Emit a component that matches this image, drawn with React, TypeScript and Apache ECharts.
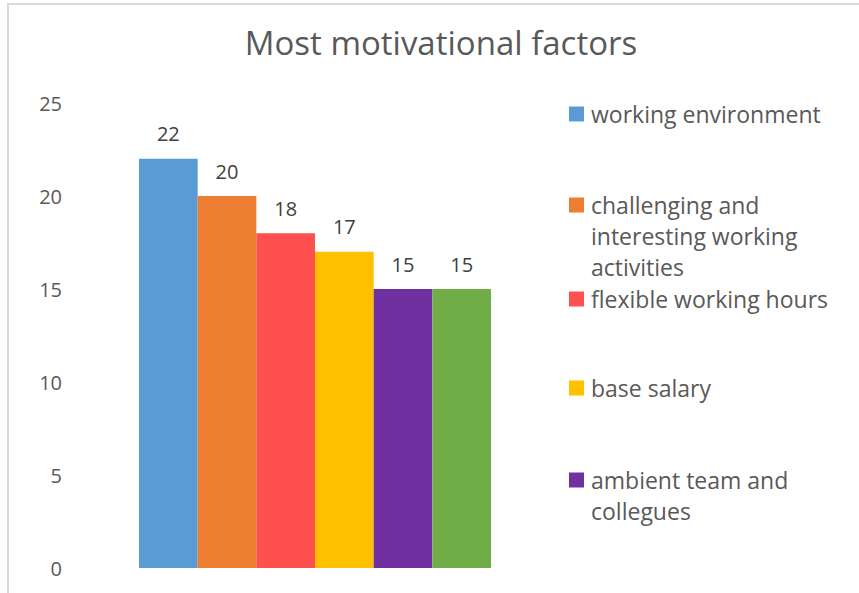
import React, { useEffect, useRef } from "react";
import * as echarts from "echarts";

const categories = [""];
const seriesNames = [
  "working environment",
  "challenging and interesting working activities",
  "flexible working hours",
  "base salary",
  "ambient team and collegues",
  "other",
];
const seriesValues = [22, 20, 18, 17, 15, 15];
const seriesColors = ["#5B9BD5", "#ED7D31", "#FF5050", "#FFC000", "#7030A0", "#70AD47"];
const legendLabels = [
  "working environment",
  "challenging and\ninteresting working\nactivities",
  "flexible working hours",
  "base salary",
  "ambient team and\ncollegues",
];
const yTicks = { min: 0, max: 25, interval: 5 };

const FONT = "Open Sans";
const TXT = "#595959";

export default function App() {
  const ref = useRef<HTMLDivElement>(null);
  useEffect(() => {
    if (!ref.current) return;
    const chart = echarts.init(ref.current, undefined, { renderer: "svg" });
    const legendCenters = [114, 205, 299, 388, 480];
    const legends = legendLabels.map((lab, i) => {
      const lines = lab.split("\n").length;
      const lineH = lines > 1 ? 31 : 24;
      const pad = lines - 1;
      const text = "\n".repeat(pad) + lab;
      const total = (lines + pad) * lineH;
      return {
        show: true,
        orient: "vertical",
        left: 569,
        top: legendCenters[i] - total / 2,
        padding: 0,
        itemWidth: 15,
        itemHeight: 15,
        icon: "rect",
        selectedMode: false,
        data: [seriesNames[i]],
        formatter: () => text,
        textStyle: {
          color: TXT,
          fontFamily: FONT,
          fontSize: 23,
          lineHeight: lineH,
          padding: [0, 0, 0, 2],
        },
      };
    });
    chart.setOption({
      animation: false,
      backgroundColor: "#ffffff",
      title: {
        text: "Most motivational factors",
        left: 441,
        textAlign: "center",
        top: 26,
        padding: 0,
        textStyle: { color: TXT, fontFamily: FONT, fontSize: 33, fontWeight: "normal" },
      },
      legend: legends,
      grid: { left: 95, right: 324, top: 103, bottom: 25, containLabel: false },
      xAxis: {
        type: "category",
        data: categories,
        axisLine: { show: false },
        axisTick: { show: false },
        axisLabel: { show: false },
      },
      yAxis: {
        type: "value",
        min: yTicks.min,
        max: yTicks.max,
        interval: yTicks.interval,
        axisLine: { show: false },
        axisTick: { show: false },
        splitLine: { show: false },
        axisLabel: { color: TXT, fontFamily: FONT, fontSize: 20, margin: 33 },
      },
      series: seriesNames.map((name, i) => ({
        type: "bar",
        name,
        data: [seriesValues[i]],
        barGap: "0%",
        barCategoryGap: "20%",
        itemStyle: { color: seriesColors[i] },
        label: {
          show: true,
          position: "top",
          distance: 15,
          color: "#404040",
          fontFamily: FONT,
          fontSize: 20,
        },
      })),
      graphic: [
        {
          type: "rect",
          shape: { x: 8, y: 4, width: 1000, height: 1000 },
          style: { fill: "none", stroke: "#d9d9d9", lineWidth: 2 },
          silent: true,
        },
      ],
    });
    return () => chart.dispose();
  }, []);
  return (
    <div
      ref={ref}
      style={{ position: "absolute", left: 0, top: 0, width: 859, height: 593 }}
    />
  );
}
